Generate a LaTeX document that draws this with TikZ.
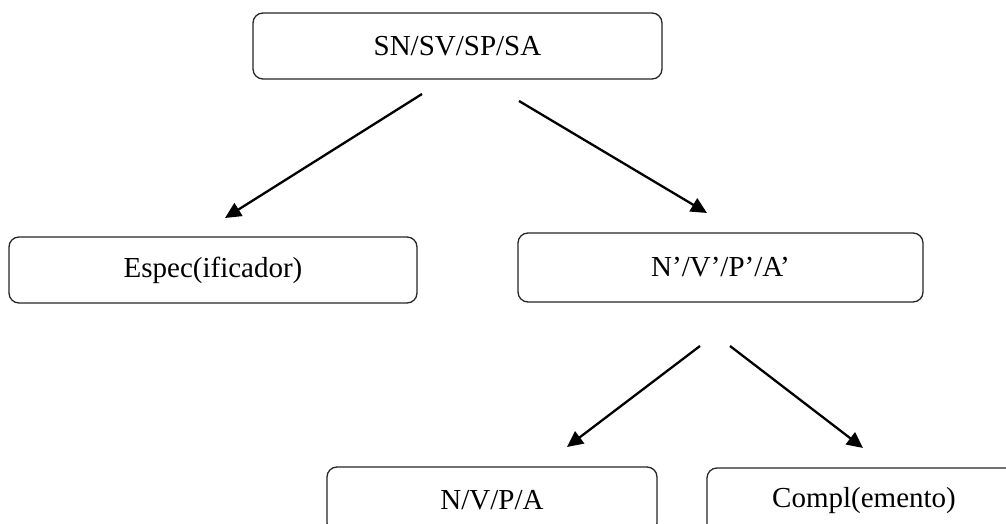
\documentclass[tikz,border=0pt]{standalone}
\usepackage{fontspec}
\setmainfont{Liberation Serif}
\usetikzlibrary{arrows.meta}
\begin{document}
\begin{tikzpicture}[x=1pt,y=1pt,
  phrase/.style={draw=black!85, line width=1.3pt, rounded corners=10pt,
    inner sep=0pt, font=\fontsize{29}{34}\selectfont},
  branch/.style={line width=2.3pt, -{Triangle[length=16pt,width=15pt]}}]
  \useasboundingbox (0,0) rectangle (1006,524);
  \clip (0,0) rectangle (1006,524);
  \fill[white] (0,0) rectangle (1006,524);

  % phrase boxes (y measured upward)
  \node[phrase, minimum width=409pt, minimum height=66pt] (sx)   at (457.5,478) {SN/SV/SP/SA};
  \node[phrase, minimum width=408pt, minimum height=66pt] (spec) at (213,254)   {Espec(ificador)};
  \node[phrase, minimum width=405pt, minimum height=69pt] (bar)  at (720.5,256.5) {N’/V’/P’/A’};
  \node[phrase, minimum width=330pt, minimum height=66pt] (head) at (492,24)    {N/V/P/A};
  \node[phrase, minimum width=314pt, minimum height=66pt] (comp) at (864,23)    {Compl(emento)};

  % free ends of the branches
  \coordinate (s1) at (422,430);  \coordinate (e1) at (225,306);
  \coordinate (s2) at (519,423);  \coordinate (e2) at (707,311);
  \coordinate (s3) at (700,178);  \coordinate (e3) at (567,77);
  \coordinate (s4) at (730,178);  \coordinate (e4) at (863,76);

  \draw[branch] (s1) -- (e1);
  \draw[branch] (s2) -- (e2);
  \draw[branch] (s3) -- (e3);
  \draw[branch] (s4) -- (e4);
\end{tikzpicture}
\end{document}
